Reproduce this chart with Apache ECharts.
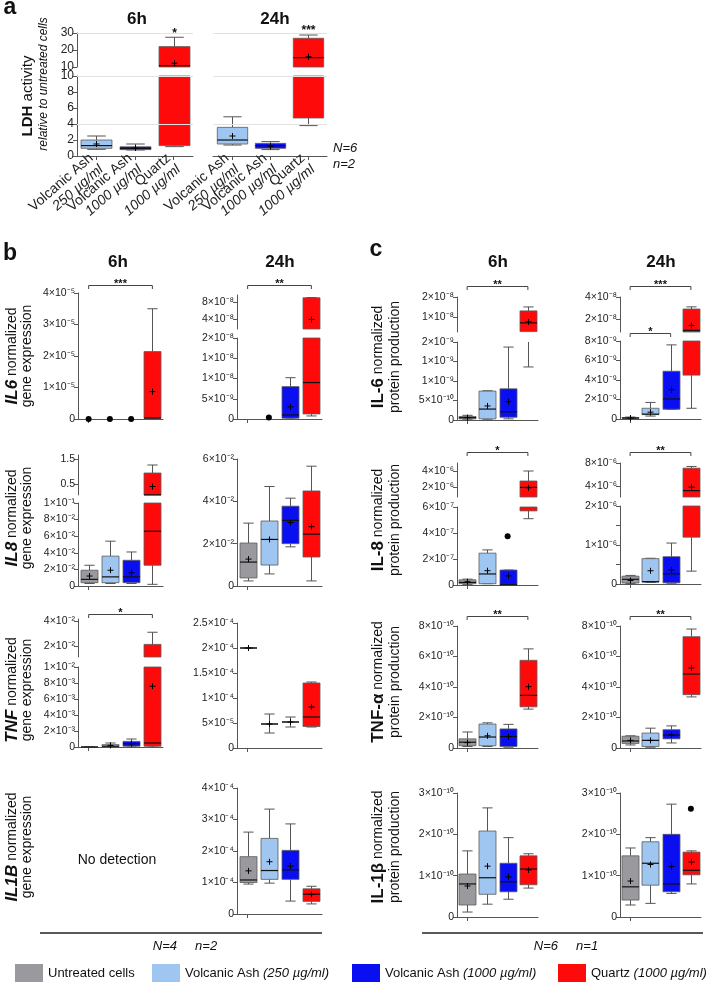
<!DOCTYPE html>
<html><head><meta charset="utf-8">
<script src="https://cdn.jsdelivr.net/npm/echarts@6/dist/echarts.min.js"></script>
<style>html,body{margin:0;padding:0;background:#fff}#c{width:709px;height:983px}</style>
</head><body><div id="c"></div><script>
// ---------------- DATA ----------------
const groupNames = ['Untreated cells', 'Volcanic Ash (250 µg/ml)', 'Volcanic Ash (1000 µg/ml)', 'Quartz (1000 µg/ml)'];
const groupColors = ['#9a999e', '#9fc6f0', '#0a0ff2', '#fe0a0a'];
const cats4 = ['Untreated', 'VA250', 'VA1000', 'Quartz'];
const ldhCats = ['Volcanic Ash\n250 µg/ml', 'Volcanic Ash\n1000 µg/ml', 'Quartz\n1000 µg/ml'];

// rows: [category, low whisker, Q1, median, Q3, high whisker, mean]
const ldh6h  = [[0, 0.83, 0.96, 1.3, 2.0, 2.5, 1.5], [1, 0.75, 0.8, 0.96, 1.15, 1.5, 1.0], [2, 1.17, 1.3, 10.8, 22, 27.5, 12.2]];
const ldh24h = [[0, 1.37, 1.5, 2.0, 3.58, 4.9, 2.5], [1, 0.8, 0.96, 1.3, 1.58, 1.8, 1.2], [2, 3.8, 4.75, 15.5, 26.9, 28.8, 16]];
const ldhStars6h = [[2, '*']];
const ldhStars24h = [[2, '***']];
const ldhTicksUp = [10, 20, 30];
const ldhLabelsUp = ['10', '20', '30'];
const ldhTicksLo = [0, 2, 4, 6, 8, 10];
const ldhLabelsLo = ['0', '2', '4', '6', '8', '10'];
const ldhGridUp = [30];
const ldhGridLo = [10, 4];

const il6Gene6h = [[3, 0, 0.02e-5, 0.03e-5, 2.14e-5, 3.5e-5, 0.87e-5]];
const il6Gene6hDots = [[0, 0], [1, 0], [2, 0]];
const il6Gene6hTicks = [0, 1e-5, 2e-5, 3e-5, 4e-5];
const il6Gene6hLabels = ['0', '1×10⁻⁵', '2×10⁻⁵', '3×10⁻⁵', '4×10⁻⁵'];
const il6Gene24h = [[2, 0, 0.2e-9, 1.0e-9, 8e-9, 1.02e-8, 3e-9], [3, 0.75e-9, 1.25e-9, 9e-9, 9e-8, 9.05e-8, 3.9e-8]];
const il6Gene24hDots = [[1, 0.04e-8]];
const il6Gene24hTicksUp = [4e-8, 8e-8];
const il6Gene24hLabelsUp = ['4×10⁻⁸', '8×10⁻⁸'];
const il6Gene24hTicksLo = [0, 5e-9, 1e-8, 1.5e-8, 2e-8];
const il6Gene24hLabelsLo = ['0', '5×10⁻⁹', '1×10⁻⁸', '1×10⁻⁸', '2×10⁻⁸'];

const il8Gene6h = [[0, 0.003, 0.004, 0.008, 0.019, 0.025, 0.012], [1, 0.003, 0.004, 0.011, 0.036, 0.054, 0.019],
  [2, 0.003, 0.004, 0.011, 0.031, 0.041, 0.016], [3, 0.002, 0.025, 0.066, 0.94, 1.26, 0.40]];
const il8Gene6hTicksUp = [0.5, 1.5];
const il8Gene6hLabelsUp = ['0.5', '1.5'];
const il8Gene6hTicksLo = [0, 0.02, 0.04, 0.06, 0.08, 0.1];
const il8Gene6hLabelsLo = ['0', '2×10⁻²', '4×10⁻²', '6×10⁻²', '8×10⁻²', '1×10⁻¹'];
const il8Gene24h = [[0, 0.0024, 0.0038, 0.0113, 0.0203, 0.0297, 0.0127], [1, 0.0057, 0.0099, 0.022, 0.0307, 0.047, 0.022],
  [2, 0.0185, 0.020, 0.031, 0.0377, 0.0415, 0.030], [3, 0.0024, 0.0137, 0.0245, 0.0449, 0.0566, 0.028]];
const il8Gene24hTicks = [0, 0.02, 0.04, 0.06];
const il8Gene24hLabels = ['0', '2×10⁻²', '4×10⁻²', '6×10⁻²'];

const tnfGene6h = [[0, 0, 0, 0, 0, 0, null], [1, 0, 0.00005, 0.0001, 0.0003, 0.0005, 0.0002],
  [2, 0, 0.0001, 0.0004, 0.0007, 0.001, 0.0004], [3, 0, 0.0001, 0.0005, 0.0213, 0.031, 0.0076]];
const tnfGene6hTicksUp = [0.02, 0.04];
const tnfGene6hLabelsUp = ['2×10⁻²', '4×10⁻²'];
const tnfGene6hTicksLo = [0, 0.002, 0.004, 0.006, 0.008, 0.01];
const tnfGene6hLabelsLo = ['0', '2×10⁻³', '4×10⁻³', '6×10⁻³', '8×10⁻³', '1×10⁻²'];
const tnfGene24h = [[0, 2e-4, 2e-4, 2e-4, 2e-4, 2e-4, 2e-4], [1, 3e-5, 4.8e-5, 4.8e-5, 4.8e-5, 6.8e-5, 4.8e-5],
  [2, 4.2e-5, 5.2e-5, 5.2e-5, 5.2e-5, 6.2e-5, 5.2e-5], [3, 4.2e-5, 4.3e-5, 6.2e-5, 1.3e-4, 1.32e-4, 8.2e-5]];
const tnfGene24hTicks = [0, 5e-5, 1e-4, 1.5e-4, 2e-4, 2.5e-4];
const tnfGene24hLabels = ['0', '5×10⁻⁵', '1×10⁻⁴', '1.5×10⁻⁴', '2×10⁻⁴', '2.5×10⁻⁴'];

const il1bGene24h = [[0, 0.95e-4, 1.0e-4, 1.08e-4, 1.82e-4, 2.6e-4, 1.37e-4], [1, 0.98e-4, 1.1e-4, 1.38e-4, 2.4e-4, 3.33e-4, 1.66e-4],
  [2, 0.41e-4, 1.1e-4, 1.4e-4, 2.02e-4, 2.86e-4, 1.52e-4], [3, 0.32e-4, 0.4e-4, 0.63e-4, 0.8e-4, 0.88e-4, 0.62e-4]];
const il1bGene24hTicks = [0, 1e-4, 2e-4, 3e-4, 4e-4];
const il1bGene24hLabels = ['0', '1×10⁻⁴', '2×10⁻⁴', '3×10⁻⁴', '4×10⁻⁴'];

const il6Prot6h = [[0, 0.2e-10, 0.3e-10, 0.6e-10, 0.9e-10, 1.2e-10, 0.6e-10], [1, 0.2e-10, 0.3e-10, 2.8e-10, 7.4e-10, 7.5e-10, 3.6e-10],
  [2, 0.3e-10, 0.7e-10, 2.1e-10, 8e-10, 1.87e-9, 4.7e-10], [3, 1.36e-9, 2.6e-9, 7e-9, 1.3e-8, 1.5e-8, 7.5e-9]];
const il6Prot6hTicksUp = [1e-8, 2e-8];
const il6Prot6hLabelsUp = ['1×10⁻⁸', '2×10⁻⁸'];
const il6Prot6hTicksLo = [0, 5e-10, 1e-9, 1.5e-9, 2e-9];
const il6Prot6hLabelsLo = ['0', '5×10⁻¹⁰', '1×10⁻⁹', '1×10⁻⁹', '2×10⁻⁹'];
const il6Prot24h = [[0, 0.05e-9, 0.08e-9, 0.1e-9, 0.15e-9, 0.2e-9, 0.1e-9], [1, 0.3e-9, 0.45e-9, 0.5e-9, 1.1e-9, 1.7e-9, 0.7e-9],
  [2, 1.0e-9, 1.0e-9, 2.05e-9, 4.9e-9, 7.6e-9, 3e-9], [3, 1.1e-9, 4.5e-9, 9.5e-9, 2.9e-8, 3.1e-8, 1.4e-8]];
const il6Prot24hTicksUp = [2e-8, 4e-8];
const il6Prot24hLabelsUp = ['2×10⁻⁸', '4×10⁻⁸'];
const il6Prot24hTicksLo = [0, 2e-9, 4e-9, 6e-9, 8e-9];
const il6Prot24hLabelsLo = ['0', '2×10⁻⁹', '4×10⁻⁹', '6×10⁻⁹', '8×10⁻⁹'];

const il8Prot6h = [[0, 0.05e-7, 0.1e-7, 0.2e-7, 0.4e-7, 0.45e-7, 0.25e-7], [1, 0.1e-7, 0.1e-7, 0.85e-7, 2.45e-7, 2.7e-7, 1.1e-7],
  [2, 0, 0, 0.02e-7, 1.15e-7, 1.15e-7, 0.7e-7], [3, 5.1e-7, 5.7e-7, 1.95e-6, 2.75e-6, 4.0e-6, 1.9e-6]];
const il8Prot6hDots = [[2, 3.75e-7]];
const il8Prot6hTicksUp = [2e-6, 4e-6];
const il8Prot6hLabelsUp = ['2×10⁻⁶', '4×10⁻⁶'];
const il8Prot6hTicksLo = [0, 2e-7, 4e-7, 6e-7];
const il8Prot6hLabelsLo = ['0', '2×10⁻⁷', '4×10⁻⁷', '6×10⁻⁷'];
const il8Prot24h = [[0, 0.1e-7, 0.25e-7, 1.2e-7, 2e-7, 2.2e-7, 0.9e-7], [1, 0.4e-7, 0.5e-7, 0.6e-7, 6.5e-7, 6.6e-7, 3.4e-7],
  [2, 0.2e-7, 0.3e-7, 2.6e-7, 7e-7, 1.05e-6, 3.6e-7], [3, 3.3e-7, 1.2e-6, 3.2e-6, 7.1e-6, 7.4e-6, 3.8e-6]];
const il8Prot24hTicksUp = [4e-6, 8e-6];
const il8Prot24hLabelsUp = ['4×10⁻⁶', '8×10⁻⁶'];
const il8Prot24hTicksLo = [0, 5e-7, 1e-6, 1.5e-6, 2e-6];
const il8Prot24hLabelsLo = ['0', '', '1×10⁻⁶', '', '2×10⁻⁶'];

const tnfProt6h = [[0, 0.1e-10, 0.15e-10, 0.38e-10, 0.6e-10, 1.05e-10, 0.35e-10], [1, 0.1e-10, 0.15e-10, 0.72e-10, 1.57e-10, 1.65e-10, 0.8e-10],
  [2, 0.05e-10, 0.1e-10, 0.75e-10, 1.25e-10, 1.55e-10, 0.75e-10], [3, 2.55e-10, 2.7e-10, 3.45e-10, 5.75e-10, 6.5e-10, 4.02e-10]];
const tnfProt24h = [[0, 0.2e-10, 0.3e-10, 0.46e-10, 0.77e-10, 0.8e-10, 0.5e-10], [1, 0.05e-10, 0.1e-10, 0.5e-10, 0.98e-10, 1.3e-10, 0.5e-10],
  [2, 0.33e-10, 0.6e-10, 0.85e-10, 1.2e-10, 1.45e-10, 0.85e-10], [3, 3.35e-10, 3.5e-10, 4.85e-10, 7.3e-10, 7.8e-10, 5.25e-10]];
const tnfProtTicks = [0, 2e-10, 4e-10, 6e-10, 8e-10];
const tnfProtLabels = ['0', '2×10⁻¹⁰', '4×10⁻¹⁰', '6×10⁻¹⁰', '8×10⁻¹⁰'];

const il1bProt6h = [[0, 0.12e-10, 0.29e-10, 0.8e-10, 1.04e-10, 1.6e-10, 0.75e-10], [1, 0.31e-10, 0.55e-10, 0.95e-10, 2.08e-10, 2.64e-10, 1.23e-10],
  [2, 0.43e-10, 0.61e-10, 0.85e-10, 1.3e-10, 1.92e-10, 0.97e-10], [3, 0.7e-10, 0.78e-10, 1.16e-10, 1.48e-10, 1.53e-10, 1.14e-10]];
const il1bProt24h = [[0, 0.29e-10, 0.41e-10, 0.73e-10, 1.48e-10, 1.67e-10, 0.87e-10], [1, 0.33e-10, 0.77e-10, 1.3e-10, 1.82e-10, 1.92e-10, 1.27e-10],
  [2, 0.57e-10, 0.61e-10, 0.8e-10, 2.0e-10, 2.73e-10, 1.22e-10], [3, 0.8e-10, 1.02e-10, 1.13e-10, 1.57e-10, 1.6e-10, 1.33e-10]];
const il1bProt24hDots = [[3, 2.62e-10]];
const il1bProtTicks = [0, 1e-10, 2e-10, 3e-10];
const il1bProtLabels = ['0', '1×10⁻¹⁰', '2×10⁻¹⁰', '3×10⁻¹⁰'];

// significance brackets: [from category, to category, label]
const brIl6Gene6h = [0, 3, '***'];
const brIl6Gene24h = [0, 3, '**'];
const brTnfGene6h = [0, 3, '*'];
const brIl6Prot6h = [0, 3, '**'];
const brIl6Prot24h = [0, 3, '***'];
const brIl6Prot24hB = [0, 2, '*'];
const brIl8Prot6h = [0, 3, '*'];
const brIl8Prot24h = [0, 3, '**'];
const brTnfProt6h = [0, 3, '**'];
const brTnfProt24h = [0, 3, '**'];

// ---------------- RENDERING ----------------
const F = "'Liberation Sans', Arial, Helvetica, sans-serif";
const AX = '#555';
const WH = '#555';
const grids = [], xAxes = [], yAxes = [], series = [];

function lookup(ticks, labels) {
  const span = Math.max.apply(null, ticks.map(Math.abs)) || 1;
  return function (v) {
    for (let i = 0; i < ticks.length; i++) if (Math.abs(ticks[i] - v) <= span * 1e-6) return labels[i];
    return '';
  };
}

function makeBox(sp, seg) {
  const eps = (seg.max - seg.min) * 1e-9;
  const inV = v => v >= seg.min - eps && v <= seg.max + eps;
  return function (params, api) {
    const r = sp.rows[params.dataIndex];
    const cat = r[0], lo = r[1], q1 = r[2], md = r[3], q3 = r[4], hi = r[5], mean = r[6];
    const cs = params.coordSys;
    const T = cs.y, B = cs.y + cs.height;
    const cx = Math.round(api.coord([cat, seg.min])[0]) + 0.5;
    const bw = api.size([1, 0])[0] * sp.boxRatio;
    const cw = bw * 0.6;
    const Y = v => api.coord([cat, v])[1];
    const kids = [];
    const ln = (x1, y1, x2, y2, st, lw) => kids.push({ type: 'line', shape: { x1, y1, x2, y2 }, style: { stroke: st, lineWidth: lw } });
    const vseg = (ya, yb) => {
      const a = Math.max(Math.min(ya, yb), T), b = Math.min(Math.max(ya, yb), B);
      if (b > a) ln(cx, a, cx, b, WH, 1);
    };
    vseg(Y(hi), Y(q3)); vseg(Y(q1), Y(lo));
    [hi, lo].forEach(v => { if (inV(v)) { const y = Y(v); ln(cx - cw / 2, y, cx + cw / 2, y, WH, 1); } });
    const y3 = Y(q3), y1 = Y(q1);
    const bt = Math.max(Math.min(y3, y1), T), bb = Math.min(Math.max(y3, y1), B);
    if (bb > bt || (bb === bt && inV(q3)))
      kids.push({ type: 'rect', shape: { x: cx - bw / 2, y: bt, width: bw, height: bb - bt },
        style: { fill: sp.colors[cat], stroke: '#5a5a5a', lineWidth: 0.8 } });
    if (inV(md)) { const ym = Y(md); ln(cx - bw / 2, ym, cx + bw / 2, ym, '#111', 1.2); }
    if (mean != null && inV(mean)) {
      const y = Y(mean);
      ln(cx - 3, y, cx + 3, y, '#000', 1); ln(cx, y - 3, cx, y + 3, '#000', 1);
    }
    (sp.stars || []).forEach(s => {
      if (s[0] === cat && inV(hi)) {
        const y = Y(hi);
        kids.push({ type: 'text', x: cx, y: y + 2, style: { text: s[1], align: 'center', verticalAlign: 'bottom', font: 'bold 12px ' + F, fill: '#111' } });
      }
    });
    return { type: 'group', children: kids };
  };
}

function makeDot(seg) {
  const eps = (seg.max - seg.min) * 1e-9;
  return function (params, api) {
    const v = api.value(1);
    if (v < seg.min - eps || v > seg.max + eps) return { type: 'group', children: [] };
    const p = api.coord([api.value(0), v]);
    return { type: 'circle', shape: { cx: p[0], cy: p[1], r: 3 }, style: { fill: '#000' } };
  };
}

function makeBracket(list) {
  return function (params, api) {
    const b = list[params.dataIndex];
    const cs = params.coordSys;
    const x1 = api.coord([b.br[0], 0])[0], x2 = api.coord([b.br[1], 0])[0];
    const y = Math.round(cs.y - b.off) + 0.5;
    return { type: 'group', children: [
      { type: 'polyline', shape: { points: [[x1, y + 3.5], [x1, y], [x2, y], [x2, y + 3.5]] }, style: { stroke: '#444', fill: null, lineWidth: 1 } },
      { type: 'text', x: (x1 + x2) / 2, y: y + 4, style: { text: b.br[2], align: 'center', verticalAlign: 'bottom', font: 'bold 11px ' + F, fill: '#111' } }
    ] };
  };
}

function addSubplot(sp) {
  const nSeg = sp.segs.length;
  sp.segs.forEach((seg, si) => {
    const gi = grids.length;
    const isBottom = si === nSeg - 1;
    grids.push({ left: sp.left, top: seg.top, width: sp.width, height: seg.bottom - seg.top });
    xAxes.push({
      gridIndex: gi, type: 'category', data: sp.cats, boundaryGap: true,
      axisLine: { show: isBottom, onZero: false, lineStyle: { color: AX, width: 1 } },
      axisTick: { show: isBottom, alignWithLabel: true, length: 4, lineStyle: { color: AX } },
      axisLabel: (isBottom && sp.xLabels) ? {
        show: true, interval: 0, rotate: 41, margin: 6, fontSize: 14, fontFamily: F, color: '#222', lineHeight: 15,
        formatter: v => { const p = v.split('\n'); return p[0] + '\n{i|' + p[1] + '}'; },
        rich: { i: { fontStyle: 'italic', fontSize: 14, fontFamily: F, color: '#222', lineHeight: 15 } }
      } : { show: false },
      splitLine: { show: false }
    });
    yAxes.push({
      gridIndex: gi, type: 'value', min: seg.min, max: seg.max, show: sp.showY !== false,
      axisLine: { show: true, lineStyle: { color: AX, width: 1 } },
      axisTick: { show: true, length: 4, customValues: seg.ticks, lineStyle: { color: AX } },
      axisLabel: { customValues: seg.ticks, formatter: lookup(seg.ticks, seg.labels), fontFamily: F, fontSize: sp.tickFont || 10.5, color: '#222', margin: 3 },
      splitLine: { show: false }
    });
    if (seg.gridLines) {
      series.push({ type: 'scatter', xAxisIndex: gi, yAxisIndex: gi, silent: true, symbolSize: 0, z: 1,
        data: [[0, seg.min]],
        markLine: { silent: true, symbol: 'none', animation: false, label: { show: false },
          lineStyle: { color: '#e2e2e2', type: 'solid', width: 1 }, data: seg.gridLines.map(v => ({ yAxis: v })) } });
    }
    if (sp.rows.length) series.push({ type: 'custom', xAxisIndex: gi, yAxisIndex: gi, silent: true, z: 3,
      data: sp.rows.map(r => [r[0], r[3]]), renderItem: makeBox(sp, seg) });
    if (sp.dots && sp.dots.length) series.push({ type: 'custom', xAxisIndex: gi, yAxisIndex: gi, silent: true, z: 4,
      data: sp.dots, renderItem: makeDot(seg) });
    const br = (sp.brackets || []).filter(b => b.seg === si);
    if (br.length) series.push({ type: 'custom', xAxisIndex: gi, yAxisIndex: gi, silent: true, z: 4,
      data: br.map(b => [b.br[0], seg.max]), renderItem: makeBracket(br) });
  });
}

const colsA = [groupColors[1], groupColors[2], groupColors[3]];
function seg(top, bottom, min, max, ticks, labels, extra) { return Object.assign({ top, bottom, min, max, ticks, labels }, extra || {}); }

// panel a
addSubplot({ left: 77, width: 116, cats: ldhCats, colors: colsA, rows: ldh6h, stars: ldhStars6h, xLabels: true, tickFont: 12, boxRatio: 0.8,
  segs: [seg(33, 67, 10, 30, ldhTicksUp, ldhLabelsUp, { gridLines: ldhGridUp }), seg(76, 156, 0, 10, ldhTicksLo, ldhLabelsLo, { gridLines: ldhGridLo })] });
addSubplot({ left: 213, width: 114, cats: ldhCats, colors: colsA, rows: ldh24h, stars: ldhStars24h, xLabels: true, tickFont: 12, boxRatio: 0.8, showY: false,
  segs: [seg(33, 67, 10, 30, ldhTicksUp, ldhLabelsUp, { gridLines: ldhGridUp }), seg(76, 156, 0, 10, ldhTicksLo, ldhLabelsLo, { gridLines: ldhGridLo })] });

// panel b
const BL6 = 78, BL24 = 237, BW = 85, RB = 0.8;
addSubplot({ left: BL6, width: BW, cats: cats4, colors: groupColors, rows: il6Gene6h, dots: il6Gene6hDots, boxRatio: RB,
  brackets: [{ seg: 0, br: brIl6Gene6h, off: 8 }],
  segs: [seg(293, 419, 0, 4e-5, il6Gene6hTicks, il6Gene6hLabels)] });
addSubplot({ left: BL24, width: BW, cats: cats4, colors: groupColors, rows: il6Gene24h, dots: il6Gene24hDots, boxRatio: RB,
  brackets: [{ seg: 0, br: brIl6Gene24h, off: 10 }],
  segs: [seg(295, 329, 1.65e-8, 9.65e-8, il6Gene24hTicksUp, il6Gene24hLabelsUp), seg(338, 419, 0, 2e-8, il6Gene24hTicksLo, il6Gene24hLabelsLo)] });
addSubplot({ left: BL6, width: BW, cats: cats4, colors: groupColors, rows: il8Gene6h, boxRatio: RB,
  segs: [seg(455, 495, 0.06, 1.66, il8Gene6hTicksUp, il8Gene6hLabelsUp), seg(503, 586, 0, 0.1, il8Gene6hTicksLo, il8Gene6hLabelsLo)] });
addSubplot({ left: BL24, width: BW, cats: cats4, colors: groupColors, rows: il8Gene24h, boxRatio: RB,
  segs: [seg(459, 586, 0, 0.06, il8Gene24hTicks, il8Gene24hLabels)] });
addSubplot({ left: BL6, width: BW, cats: cats4, colors: groupColors, rows: tnfGene6h, boxRatio: RB,
  brackets: [{ seg: 0, br: brTnfGene6h, off: 5 }],
  segs: [seg(619, 657, 0.0112, 0.0416, tnfGene6hTicksUp, tnfGene6hLabelsUp), seg(667, 747, 0, 0.01, tnfGene6hTicksLo, tnfGene6hLabelsLo)] });
addSubplot({ left: BL24, width: BW, cats: cats4, colors: groupColors, rows: tnfGene24h, boxRatio: RB,
  segs: [seg(623, 748, 0, 2.5e-4, tnfGene24hTicks, tnfGene24hLabels)] });
addSubplot({ left: BL24, width: BW, cats: cats4, colors: groupColors, rows: il1bGene24h, boxRatio: RB,
  segs: [seg(788, 914, 0, 4e-4, il1bGene24hTicks, il1bGene24hLabels)] });

// panel c
const CL6 = 457, CL24 = 620, CW = 81, RC = 0.84;
addSubplot({ left: CL6, width: CW, cats: cats4, colors: groupColors, rows: il6Prot6h, boxRatio: RC,
  brackets: [{ seg: 0, br: brIl6Prot6h, off: 11 }],
  segs: [seg(297, 332, 2.4e-9, 2e-8, il6Prot6hTicksUp, il6Prot6hLabelsUp), seg(342, 420, 0, 2e-9, il6Prot6hTicksLo, il6Prot6hLabelsLo)] });
addSubplot({ left: CL24, width: CW, cats: cats4, colors: groupColors, rows: il6Prot24h, boxRatio: RC,
  brackets: [{ seg: 0, br: brIl6Prot24h, off: 11 }, { seg: 1, br: brIl6Prot24hB, off: 8 }],
  segs: [seg(297, 332, 0.8e-8, 4e-8, il6Prot24hTicksUp, il6Prot24hLabelsUp), seg(341, 419, 0, 8e-9, il6Prot24hTicksLo, il6Prot24hLabelsLo)] });
addSubplot({ left: CL6, width: CW, cats: cats4, colors: groupColors, rows: il8Prot6h, dots: il8Prot6hDots, boxRatio: RC,
  brackets: [{ seg: 0, br: brIl8Prot6h, off: 11 }],
  segs: [seg(463, 497, 0.75e-6, 5e-6, il8Prot6hTicksUp, il8Prot6hLabelsUp), seg(507, 585, 0, 6e-7, il8Prot6hTicksLo, il8Prot6hLabelsLo)] });
addSubplot({ left: CL24, width: CW, cats: cats4, colors: groupColors, rows: il8Prot24h, boxRatio: RC,
  brackets: [{ seg: 0, br: brIl8Prot24h, off: 11 }],
  segs: [seg(463, 497, 2.09e-6, 8e-6, il8Prot24hTicksUp, il8Prot24hLabelsUp), seg(506, 584, 0, 2e-6, il8Prot24hTicksLo, il8Prot24hLabelsLo)] });
addSubplot({ left: CL6, width: CW, cats: cats4, colors: groupColors, rows: tnfProt6h, boxRatio: RC,
  brackets: [{ seg: 0, br: brTnfProt6h, off: 10 }],
  segs: [seg(626, 748, 0, 8e-10, tnfProtTicks, tnfProtLabels)] });
addSubplot({ left: CL24, width: CW, cats: cats4, colors: groupColors, rows: tnfProt24h, boxRatio: RC,
  brackets: [{ seg: 0, br: brTnfProt24h, off: 10 }],
  segs: [seg(626, 748, 0, 8e-10, tnfProtTicks, tnfProtLabels)] });
addSubplot({ left: CL6, width: CW, cats: cats4, colors: groupColors, rows: il1bProt6h, boxRatio: RC,
  segs: [seg(793, 917, 0, 3e-10, il1bProtTicks, il1bProtLabels)] });
addSubplot({ left: CL24, width: CW, cats: cats4, colors: groupColors, rows: il1bProt24h, dots: il1bProt24hDots, boxRatio: RC,
  segs: [seg(793, 917, 0, 3e-10, il1bProtTicks, il1bProtLabels)] });

// legend dummy series
groupNames.forEach((n, i) => series.push({ type: 'bar', name: n, xAxisIndex: 0, yAxisIndex: 0, data: [], itemStyle: { color: groupColors[i] } }));
const legendLeft = [15, 152, 352, 558];
const legends = groupNames.map((n, i) => ({
  data: [n], left: legendLeft[i], top: 964, icon: 'rect', itemWidth: 28, itemHeight: 18, itemGap: 5, selectedMode: false, padding: 0,
  textStyle: { fontFamily: F, fontSize: 13, color: '#111', rich: { i: { fontStyle: 'italic', fontSize: 13, fontFamily: F, color: '#111' } } },
  formatter: name => name.replace(/\((.*)\)/, '{i|($1)}')
}));

// text & decorations
function txt(x, y, text, font, extra) {
  return Object.assign({ type: 'text', x, y, silent: true, style: Object.assign({ text, font: font + ' ' + F, fill: '#111', align: 'center', verticalAlign: 'middle' }, extra || {}) });
}
function ylab(x, y, text, rich, font) {
  return { type: 'text', x, y, rotation: Math.PI / 2, silent: true,
    style: { text, font: font + ' ' + F, fill: '#111', align: 'center', verticalAlign: 'middle', rich } };
}
const richBI = { b: { fontWeight: 'bold', fontStyle: 'italic', fontSize: 17, fontFamily: F, fill: '#111' } };
const richB = { b: { fontWeight: 'bold', fontSize: 17, fontFamily: F, fill: '#111' } };
const graphic = [
  txt(10, 8, 'a', 'bold 23px'), txt(10, 254, 'b', 'bold 23px'), txt(376, 250, 'c', 'bold 23px'),
  txt(137, 19, '6h', 'bold 17px'), txt(275, 19, '24h', 'bold 17px'),
  txt(118, 262, '6h', 'bold 17px'), txt(280, 262, '24h', 'bold 17px'),
  txt(498, 262, '6h', 'bold 17px'), txt(661, 262, '24h', 'bold 17px'),
  txt(333, 148, 'N=6', 'italic 13px', { align: 'left' }), txt(333, 164, 'n=2', 'italic 13px', { align: 'left' }),
  ylab(28, 96, '{b|LDH} activity', { b: { fontWeight: 'bold', fontSize: 15, fontFamily: F, fill: '#111' } }, '15px'),
  ylab(44, 84, 'relative to untreated cells', null, 'italic 12px'),
  ylab(12, 356, '{b|IL6} normalized', richBI, '14px'), ylab(27, 356, 'gene expression', null, '14px'),
  ylab(12, 518, '{b|IL8} normalized', richBI, '14px'), ylab(27, 518, 'gene expression', null, '14px'),
  ylab(12, 690, '{b|TNF} normalized', richBI, '14px'), ylab(27, 690, 'gene expression', null, '14px'),
  ylab(12, 847, '{b|IL1B} normalized', richBI, '14px'), ylab(27, 847, 'gene expression', null, '14px'),
  ylab(378, 357, '{b|IL-6} normalized', richB, '14px'), ylab(395, 357, 'protein production', null, '14px'),
  ylab(378, 520, '{b|IL-8} normalized', richB, '14px'), ylab(395, 520, 'protein production', null, '14px'),
  ylab(378, 682, '{b|TNF-α} normalized', richB, '14px'), ylab(395, 682, 'protein production', null, '14px'),
  ylab(378, 847, '{b|IL-1β} normalized', richB, '14px'), ylab(395, 847, 'protein production', null, '14px'),
  txt(117, 860, 'No detection', '14px'),
  { type: 'line', silent: true, shape: { x1: 40, y1: 933, x2: 322, y2: 933 }, style: { stroke: '#222', lineWidth: 1.5 } },
  { type: 'line', silent: true, shape: { x1: 422, y1: 933, x2: 703, y2: 933 }, style: { stroke: '#222', lineWidth: 1.5 } },
  txt(185, 946, 'N=4     n=2', 'italic 13px'), txt(566, 946, 'N=6     n=1', 'italic 13px')
];

const chart = echarts.init(document.getElementById('c'), null, { renderer: 'canvas' });
chart.setOption({
  animation: false, backgroundColor: '#fff', textStyle: { fontFamily: F },
  grid: grids, xAxis: xAxes, yAxis: yAxes, series, legend: legends, graphic
});
</script></body></html>
